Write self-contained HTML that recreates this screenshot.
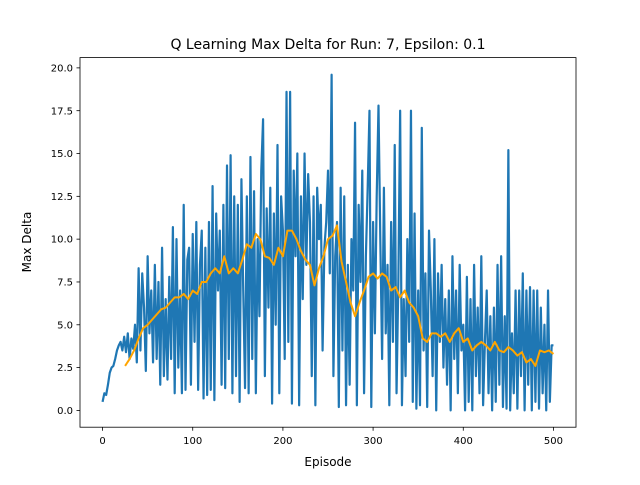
<!DOCTYPE html>
<html><head><meta charset="utf-8">
<style>
html,body{margin:0;padding:0;background:#fff;}
svg text{font-family:"DejaVu Sans","Liberation Sans",sans-serif;fill:#000;}
</style></head>
<body>
<svg id="chart" width="640" height="480" viewBox="0 0 640 480" xmlns="http://www.w3.org/2000/svg">
<rect width="640" height="480" fill="#fff"/>
<text x="328" y="49" font-size="14" text-anchor="middle">Q Learning Max Delta for Run: 7, Epsilon: 0.1</text>
<g id="marks"></g>
<g id="axes"></g>
<text x="328" y="466" font-size="12" text-anchor="middle">Episode</text>
<text x="0" y="0" font-size="12" text-anchor="middle" transform="translate(31,242) rotate(-90)">Max Delta</text>
</svg>
<script>
const episodes = [];
for (let e = 0; e <= 500; e += 2) episodes.push(e);
const maxDelta = [
0.5,1.0,0.9,1.5,2.2,2.5,2.6,3.0,3.5,3.8,
4.0,3.5,4.3,3.4,4.5,3.0,4.2,3.6,5.0,2.8,
8.3,3.5,8.0,6.0,2.3,9.0,4.5,7.0,2.8,8.5,
3.0,7.5,1.5,9.5,2.0,6.5,1.8,7.8,3.0,10.7,
1.0,10.0,2.5,7.0,1.0,12.0,1.2,8.8,9.5,1.5,
10.3,4.0,11.0,1.2,8.5,10.5,0.7,9.5,0.9,11.0,
1.2,13.1,0.6,11.5,7.0,10.5,1.5,12.0,1.3,14.3,
3.0,14.9,1.0,12.5,2.0,12.0,0.5,13.5,7.0,1.3,
12.5,1.0,14.8,3.0,12.8,1.0,10.0,5.5,14.0,17.0,
2.0,11.8,6.0,13.0,0.4,11.5,5.0,15.5,1.0,12.5,
10.5,3.0,18.6,4.0,18.6,0.4,14.0,9.0,15.0,0.3,
12.5,6.5,15.0,8.5,13.8,11.0,2.0,12.5,0.3,13.0,
10.0,12.0,3.5,9.5,11.0,14.0,8.0,19.6,2.0,9.0,
11.0,0.2,13.0,3.5,12.5,0.3,8.5,1.5,10.0,7.0,
16.8,0.3,12.0,7.5,14.0,1.0,9.0,13.0,17.5,0.2,
11.0,4.5,12.5,17.8,10.0,3.0,13.0,4.5,8.5,0.3,
11.0,4.0,15.5,1.0,7.5,17.5,0.3,6.5,2.0,10.0,
4.0,17.5,0.5,11.5,0.1,7.0,0.3,16.5,3.5,8.0,
0.2,10.5,7.0,2.0,10.0,0.0,8.0,4.0,8.5,2.5,
6.5,1.5,7.0,0.0,9.0,3.0,7.0,1.0,8.5,3.5,
5.0,0.0,7.8,0.5,6.5,0.0,8.5,2.0,6.0,1.0,
9.0,0.3,4.0,7.0,1.0,5.5,0.0,6.0,0.5,8.5,
1.5,9.0,0.2,5.5,0.1,15.2,0.0,4.5,1.0,7.0,
0.1,7.0,2.0,8.0,0.0,7.0,1.5,7.2,0.0,7.0,
0.5,7.0,0.1,6.0,1.0,5.0,0.0,7.0,0.5,3.8,
3.8];
const avgEpisodes = [];
for (let e = 25; e <= 500; e += 5) avgEpisodes.push(e);
const movingAvg = [
2.6,3.0,3.5,4.2,4.8,5.0,5.3,5.6,5.9,6.0,6.3,6.6,6.6,6.8,6.5,
7.0,6.8,7.5,7.5,8.0,8.3,8.0,9.0,8.0,8.3,8.0,8.8,9.7,9.5,10.3,10.0,9.0,8.9,8.5,9.5,
9.0,10.5,10.5,10.0,9.3,8.8,8.5,7.3,8.3,9.0,10.0,10.2,10.8,8.7,7.5,6.3,5.5,6.3,7.0,7.8,
8.0,7.7,8.0,7.8,7.0,7.2,6.6,7.0,6.3,6.0,5.5,4.2,4.0,4.5,4.5,4.3,4.5,4.0,4.5,4.8,
4.0,4.2,3.5,3.8,4.0,3.8,3.5,4.0,3.5,3.4,3.7,3.5,3.2,3.4,2.8,3.0,2.6,3.5,3.4,3.5,3.3];
const xTicks = [0,100,200,300,400,500];
const yTicks = [0.0,2.5,5.0,7.5,10.0,12.5,15.0,17.5,20.0];

const L=80,R=576,T=57.6,B=427.2;
const xMin=-25,xMax=525,yMin=-0.98,yMax=20.6;
const xs=v=>L+(v-xMin)/(xMax-xMin)*(R-L);
const ys=v=>B-(v-yMin)/(yMax-yMin)*(B-T);
const NS="http://www.w3.org/2000/svg";
const marks=document.getElementById('marks'), axes=document.getElementById('axes');
function mk(tag,attrs,parent){const el=document.createElementNS(NS,tag);for(const k in attrs)el.setAttribute(k,attrs[k]);parent.appendChild(el);return el;}

const p1=mk('path',{d:maxDelta.map((v,i)=>(i?'L':'M')+xs(episodes[i]).toFixed(2)+','+ys(v).toFixed(2)).join(''),fill:'none',stroke:'#1f77b4','stroke-width':2.2,'stroke-linejoin':'round'},marks);


const p2=mk('path',{d:movingAvg.map((v,i)=>(i?'L':'M')+xs(avgEpisodes[i]).toFixed(2)+','+ys(v).toFixed(2)).join(''),fill:'none',stroke:'#ffa500','stroke-width':2,'stroke-linejoin':'round'},marks);



const frame=mk('rect',{x:L,y:T,width:R-L,height:B-T,fill:'none',stroke:'#000','stroke-width':0.8},axes);


xTicks.forEach(t=>{
  const x=xs(t);
  const tk=mk('line',{x1:x,x2:x,y1:B,y2:B+3.5,stroke:'#000','stroke-width':0.8},axes);
  
  
  const tx=mk('text',{x:x,y:B+17,'font-size':10,'text-anchor':'middle'},axes);
  tx.textContent=t;
  
  
});
yTicks.forEach(t=>{
  const y=ys(t);
  const tk=mk('line',{x1:L-3.5,x2:L,y1:y,y2:y,stroke:'#000','stroke-width':0.8},axes);
  
  
  const tx=mk('text',{x:L-7,y:y+3.6,'font-size':10,'text-anchor':'end'},axes);
  tx.textContent=t.toFixed(1);
  
  
});
</script>
</body></html>
